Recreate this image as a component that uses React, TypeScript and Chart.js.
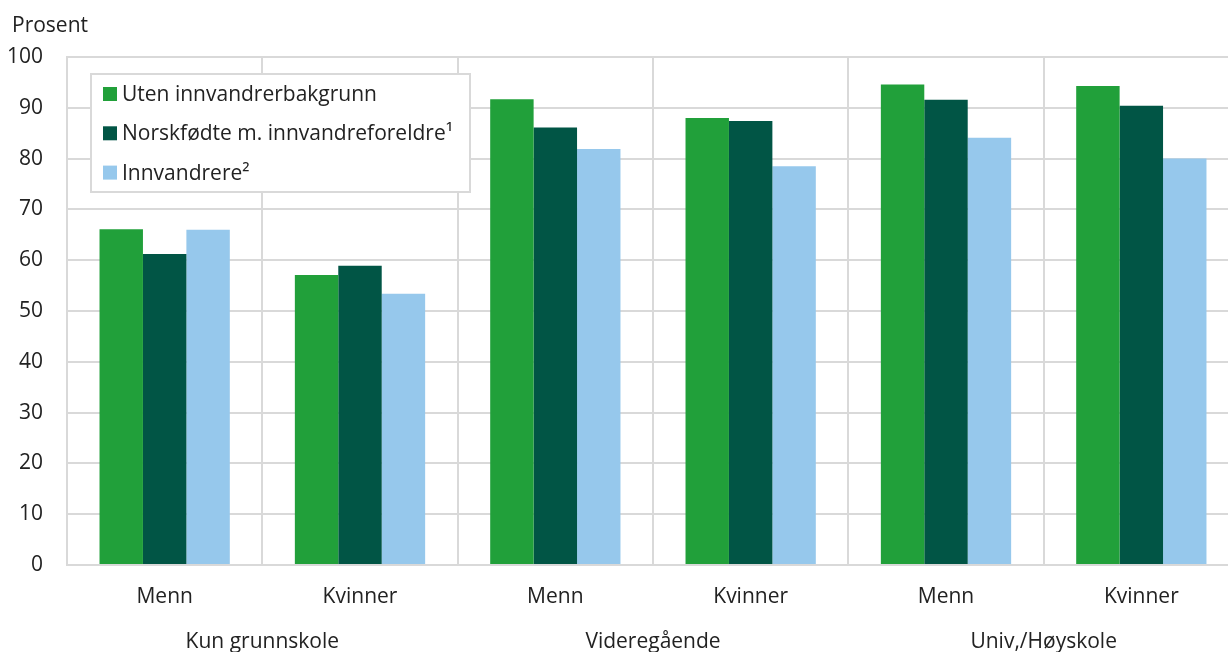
import React, { useEffect, useRef } from "react";
import { Chart, registerables } from "chart.js";

Chart.register(...registerables);

const categories = ["Menn", "Kvinner", "Menn", "Kvinner", "Menn", "Kvinner"];
const groups = ["Kun grunnskole", "Videregående", "Univ,/Høyskole"];
const seriesNames = [
  "Uten innvandrerbakgrunn",
  "Norskfødte m. innvandreforeldre¹",
  "Innvandrere²",
];
const utenInnvandrer = [66.1, 57.1, 91.7, 88.0, 94.6, 94.3];
const norskfodte = [61.2, 58.9, 86.1, 87.4, 91.6, 90.4];
const innvandrere = [66.0, 53.4, 81.9, 78.5, 84.1, 80.0];
const seriesColors = ["#21a03a", "#015545", "#96c8ec"];
const yTicks = [0, 10, 20, 30, 40, 50, 60, 70, 80, 90, 100];

const FONT = '"Open Sans", sans-serif';
const TEXT = "#222222";
const GRID = "#d9d9d9";

const overlay = {
  id: "overlay",
  afterDraw(chart: any) {
    const ctx = chart.ctx;
    const x = chart.scales.x;
    ctx.save();
    ctx.fillStyle = TEXT;
    ctx.font = `21px ${FONT}`;
    // unit label
    ctx.textAlign = "left";
    ctx.textBaseline = "alphabetic";
    ctx.fillText("Prosent", 12, 32);
    // category labels
    ctx.textAlign = "center";
    categories.forEach((c, i) => {
      ctx.fillText(c, x.getPixelForValue(i), 603);
    });
    groups.forEach((g, gi) => {
      const px = (x.getPixelForValue(gi * 2) + x.getPixelForValue(gi * 2 + 1)) / 2;
      ctx.fillText(g, px, 648);
    });
    // legend
    const bx = 91, by = 74, bw = 379, bh = 118;
    ctx.fillStyle = "#ffffff";
    ctx.fillRect(bx, by, bw, bh);
    ctx.strokeStyle = GRID;
    ctx.lineWidth = 2;
    ctx.strokeRect(bx, by, bw, bh);
    chart.data.datasets.forEach((ds: any, i: number) => {
      const cy = 94 + i * 39.3;
      ctx.fillStyle = ds.backgroundColor;
      ctx.fillRect(103, cy - 7, 14, 14);
      ctx.fillStyle = TEXT;
      ctx.textAlign = "left";
      ctx.textBaseline = "alphabetic";
      ctx.fillText(ds.label, 122, cy + 7);
    });
    ctx.restore();
  },
};

export default function App() {
  const ref = useRef<HTMLCanvasElement>(null);
  useEffect(() => {
    if (!ref.current) return;
    const chart = new Chart(ref.current, {
      type: "bar",
      data: {
        labels: categories,
        datasets: [utenInnvandrer, norskfodte, innvandrere].map((d, i) => ({
          label: seriesNames[i],
          data: d,
          backgroundColor: seriesColors[i],
          borderWidth: 0,
          barPercentage: 1,
          categoryPercentage: 0.667,
        })),
      },
      options: {
        responsive: false,
        animation: false,
        devicePixelRatio: 1,
        layout: { padding: { top: 57, left: 0, right: 1, bottom: 0 } },
        plugins: {
          legend: { display: false },
          tooltip: { enabled: false },
        },
        scales: {
          x: {
            offset: true,
            grid: { offset: true, color: GRID, lineWidth: 2, drawTicks: false },
            border: { display: true, color: GRID, width: 2 },
            ticks: { display: false },
            afterFit(scale: any) {
              scale.height = 87;
            },
          },
          y: {
            min: 0,
            max: 100,
            afterBuildTicks(scale: any) {
              scale.ticks = yTicks.map((v) => ({ value: v }));
            },
            grid: { color: GRID, lineWidth: 2, drawTicks: false },
            border: { display: true, color: GRID, width: 2 },
            ticks: {
              padding: 24,
              color: TEXT,
              font: { family: FONT, size: 21 },
            },
            afterFit(scale: any) {
              scale.width = 67;
            },
          },
        },
      },
      plugins: [overlay],
    });
    return () => chart.destroy();
  }, []);
  return (
    <div
      style={{
        position: "absolute",
        left: 0,
        top: 0,
        width: 1228,
        height: 652,
        overflow: "hidden",
        background: "#ffffff",
      }}
    >
      <canvas ref={ref} width={1240} height={652} style={{ display: "block" }} />
    </div>
  );
}
